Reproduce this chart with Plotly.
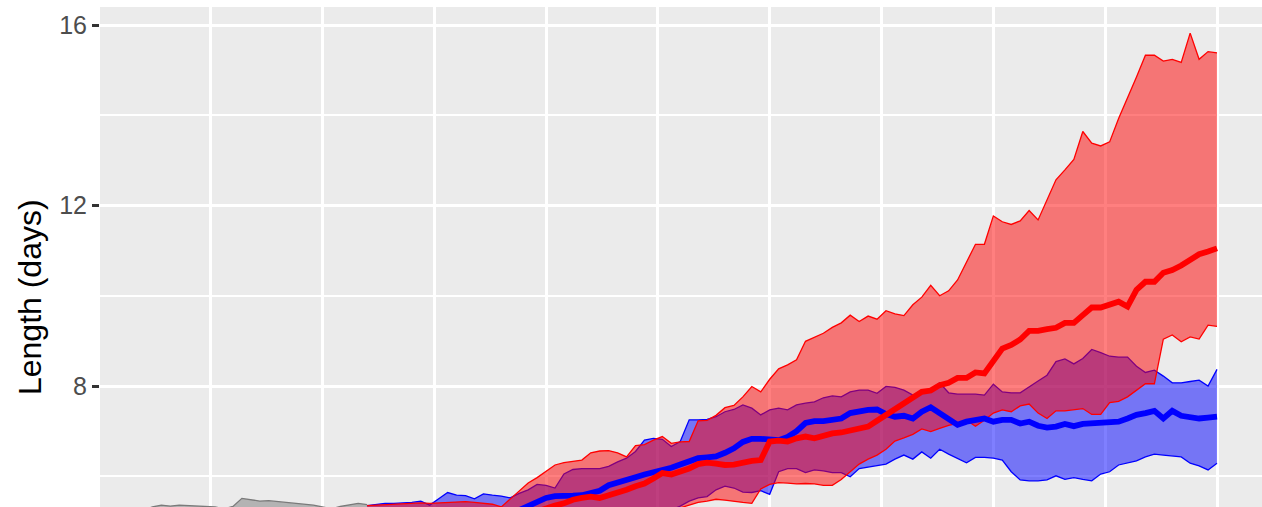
import plotly.graph_objects as go

# ---------------- data ----------------
# time index (one step per observation); gridlines every 12.5 steps
x_hist = list(range(0, 26))
x_scen = list(range(25, 121))

gray_upper = [5.25, 5.32, 5.36, 5.34, 5.36, 5.35, 5.35, 5.34, 5.32, 5.28, 5.33, 5.51, 5.48,
              5.45, 5.46, 5.44, 5.42, 5.39, 5.37, 5.36, 5.32, 5.28, 5.33, 5.37, 5.40, 5.37]
gray_lower = [4.70, 4.72, 4.74, 4.73, 4.75, 4.74, 4.74, 4.73, 4.72, 4.70, 4.72, 4.80, 4.79,
              4.78, 4.78, 4.77, 4.76, 4.75, 4.74, 4.74, 4.72, 4.70, 4.72, 4.74, 4.76, 4.75]

red_upper = [5.35, 5.36, 5.37, 5.38, 5.39, 5.40, 5.41, 5.40, 5.41, 5.42, 5.43, 5.44, 5.42,
             5.40, 5.38, 5.32, 5.50, 5.68, 5.85, 5.97, 6.12, 6.25, 6.30, 6.33, 6.36, 6.52,
             6.56, 6.57, 6.52, 6.43, 6.68, 6.70, 6.80, 6.88, 6.73, 6.76, 6.77, 7.23, 7.24,
             7.35, 7.52, 7.57, 7.76, 7.99, 7.87, 8.15, 8.38, 8.47, 8.58, 8.99, 9.08, 9.17,
             9.30,
             9.40, 9.57, 9.43, 9.55, 9.48, 9.67, 9.60, 9.56, 9.80, 9.97, 10.23, 10.00, 10.11,
             10.35, 10.73, 11.14, 11.14, 11.77, 11.64, 11.58, 11.66, 11.89, 11.68, 12.12,
             12.57, 12.79, 13.02, 13.64, 13.38, 13.32, 13.41, 13.93, 14.37, 14.85, 15.33,
             15.33, 15.20, 15.24, 15.17, 15.82, 15.24, 15.41, 15.38]

red_mean = [5.00, 5.01, 5.01, 5.02, 5.02, 5.03, 5.03, 5.04, 5.04, 5.05, 5.05, 5.06, 5.06,
            5.07, 5.08, 5.09, 5.10, 5.12, 5.15, 5.22, 5.30, 5.35, 5.40, 5.48, 5.52, 5.55,
            5.52, 5.57, 5.63, 5.70, 5.78, 5.84, 5.95, 6.07, 6.04, 6.09, 6.17, 6.27, 6.30,
            6.28, 6.25, 6.26, 6.31, 6.34, 6.36, 6.77, 6.79, 6.77, 6.84, 6.88, 6.84, 6.90,
            6.95,
            6.97, 7.02, 7.08, 7.10, 7.23, 7.36, 7.47, 7.60, 7.73, 7.87, 7.90, 8.02, 8.07,
            8.18, 8.18, 8.30, 8.28, 8.58, 8.83, 8.91, 9.03, 9.22, 9.22, 9.26, 9.29, 9.40,
            9.40, 9.57, 9.74, 9.74, 9.80, 9.87, 9.76, 10.13, 10.31, 10.31, 10.51, 10.57,
            10.67, 10.78, 10.92, 10.98, 11.05]

red_lower = [5.20, 5.15, 5.10, 5.05, 5.00, 4.98, 4.95, 4.93, 4.90, 4.88, 4.86, 4.85, 4.85,
             4.84, 4.83, 4.83, 4.84, 4.86, 4.88, 4.90, 4.93, 4.95, 4.98, 5.00, 5.02, 5.05,
             5.08, 5.10, 5.12, 5.15, 5.17, 5.20, 5.22, 5.24, 5.25, 5.30, 5.36, 5.42, 5.45,
             5.49, 5.47, 5.44, 5.42, 5.40, 5.72, 5.82, 5.86, 5.85, 5.83, 5.84, 5.83, 5.80,
             5.80,
             5.93, 6.10, 6.27, 6.38, 6.47, 6.60, 6.78, 6.85, 6.93, 7.05, 6.99, 7.06, 7.13,
             7.17, 7.24, 7.11, 7.24, 7.40, 7.47, 7.43, 7.56, 7.60, 7.40, 7.28, 7.45, 7.45,
             7.47, 7.50, 7.37, 7.37, 7.63, 7.66, 7.76, 7.91, 8.05, 8.05, 9.04, 9.13, 8.98,
             9.09, 9.04, 9.35, 9.32]

blue_upper = [5.35, 5.38, 5.40, 5.40, 5.41, 5.42, 5.45, 5.36, 5.50, 5.64, 5.58, 5.57, 5.50,
              5.61, 5.58, 5.56, 5.52, 5.62, 5.70, 5.82, 5.80, 5.74, 6.05, 6.15, 6.17, 6.17,
              6.17, 6.22, 6.32, 6.40, 6.55, 6.80, 6.84, 6.82, 6.66, 6.77, 7.25, 7.25, 7.26,
              7.32, 7.43, 7.48, 7.58, 7.51, 7.36, 7.47, 7.51, 7.47, 7.58, 7.62, 7.65, 7.74,
              7.78,
              7.76, 7.87, 7.91, 7.91, 7.84, 7.99, 7.97, 7.91, 7.80, 7.86, 7.93, 8.07, 7.85,
              7.82, 7.82, 7.82, 7.80, 8.04, 7.87, 7.85, 7.85, 7.99, 8.11, 8.24, 8.54, 8.60,
              8.49, 8.61, 8.81, 8.74, 8.66, 8.64, 8.64, 8.44, 8.30, 8.35, 8.22, 8.07, 8.07,
              8.10, 8.13, 8.00, 8.37]

blue_mean = [5.05, 5.06, 5.06, 5.07, 5.08, 5.08, 5.09, 5.10, 5.10, 5.11, 5.12, 5.12, 5.13,
             5.14, 5.15, 5.17, 5.20, 5.25, 5.35, 5.45, 5.52, 5.56, 5.58, 5.57, 5.58, 5.62,
             5.68, 5.80, 5.87, 5.92, 5.98, 6.04, 6.08, 6.14, 6.19, 6.26, 6.33, 6.40, 6.42,
             6.44, 6.52, 6.62, 6.76, 6.83, 6.83, 6.82, 6.80, 6.87, 7.00, 7.18, 7.22, 7.22,
             7.25,
             7.28, 7.40, 7.45, 7.47, 7.48, 7.38, 7.32, 7.34, 7.28, 7.43, 7.53, 7.40, 7.28,
             7.14, 7.21, 7.26, 7.28, 7.21, 7.25, 7.25, 7.17, 7.21, 7.12, 7.08, 7.10, 7.16,
             7.11, 7.16, 7.17, 7.19, 7.21, 7.21, 7.28, 7.36, 7.40, 7.45, 7.28, 7.45, 7.34,
             7.32, 7.28, 7.30, 7.32]

blue_lower = [5.20, 5.15, 5.10, 5.05, 5.00, 4.97, 4.94, 4.92, 4.90, 4.88, 4.86, 4.85, 4.84,
              4.83, 4.82, 4.82, 4.82, 4.83, 4.84, 4.85, 4.86, 4.87, 4.88, 4.89, 4.90, 4.92,
              4.93, 4.95, 4.97, 4.99, 5.01, 5.03, 5.05, 5.10, 5.25, 5.34, 5.45, 5.52, 5.55,
              5.70, 5.78, 5.74, 5.65, 5.64, 5.68, 5.60, 6.10, 6.17, 6.17, 6.08, 6.14, 6.12,
              6.08,
              6.08, 5.99, 6.17, 6.20, 6.23, 6.27, 6.38, 6.47, 6.38, 6.54, 6.40, 6.60, 6.49,
              6.40, 6.30, 6.42, 6.42, 6.40, 6.36, 6.10, 5.92, 5.90, 5.90, 5.92, 6.01, 5.93,
              5.97, 5.93, 5.90, 6.05, 6.10, 6.25, 6.30, 6.34, 6.43, 6.49, 6.47, 6.45, 6.43,
              6.29, 6.23, 6.14, 6.29]

y_ticks = [8, 12, 16]
y_minor = [6, 10, 14]
y_title = "Length (days)"

# ---------------- figure ----------------
fig = go.Figure()


def ribbon(x, lo, hi, fill, edge):
    fig.add_trace(go.Scatter(x=x, y=lo, mode="lines", line=dict(width=0),
                             showlegend=False, hoverinfo="skip"))
    fig.add_trace(go.Scatter(x=x, y=hi, mode="lines", line=dict(width=0),
                             fill="tonexty", fillcolor=fill,
                             showlegend=False, hoverinfo="skip"))
    for y in (lo, hi):
        fig.add_trace(go.Scatter(x=x, y=y, mode="lines",
                                 line=dict(color=edge, width=1.3),
                                 showlegend=False, hoverinfo="skip"))


ribbon(x_hist, gray_lower, gray_upper, "rgba(110,110,110,0.45)", "#7a7a7a")
ribbon(x_scen, blue_lower, blue_upper, "rgba(0,0,255,0.5)", "#0000ff")
ribbon(x_scen, red_lower, red_upper, "rgba(255,0,0,0.5)", "#ff0000")

fig.add_trace(go.Scatter(x=x_scen, y=blue_mean, mode="lines",
                         line=dict(color="#0000ff", width=5.8),
                         showlegend=False))
fig.add_trace(go.Scatter(x=x_scen, y=red_mean, mode="lines",
                         line=dict(color="#ff0000", width=5.8),
                         showlegend=False))

fig.update_layout(
    width=1262, height=507,
    margin=dict(l=100, r=0, t=7, b=0),
    paper_bgcolor="white",
    plot_bgcolor="#EBEBEB",
    font=dict(family="Liberation Sans, Arial, sans-serif"),
    xaxis=dict(range=[-4.86, 125.03], showticklabels=False, ticks="",
               tick0=7.5, dtick=12.5, showgrid=True, gridcolor="white",
               gridwidth=2.5, zeroline=False, showline=False),
    yaxis=dict(range=[5.319, 16.399], tickvals=y_ticks, ticktext=[str(v) for v in y_ticks],
               ticks="outside", ticklen=7, tickwidth=2.5, tickcolor="#333333",
               tickfont=dict(size=25, color="#4D4D4D"),
               showgrid=True, gridcolor="white", gridwidth=2.7,
               minor=dict(tickvals=y_minor, showgrid=True, gridcolor="white",
                          gridwidth=1.5, ticks=""),
               zeroline=False, showline=False),
    annotations=[dict(text=y_title, xref="paper", yref="paper",
                      x=-0.0602, y=0.42, xanchor="center", yanchor="middle",
                      textangle=-90, showarrow=False,
                      font=dict(size=32, color="black"))],
)

fig.write_html(
    "out.html",
    config={"displayModeBar": False},
    post_script="document.body.style.margin='0';document.body.style.overflow='hidden';",
)
